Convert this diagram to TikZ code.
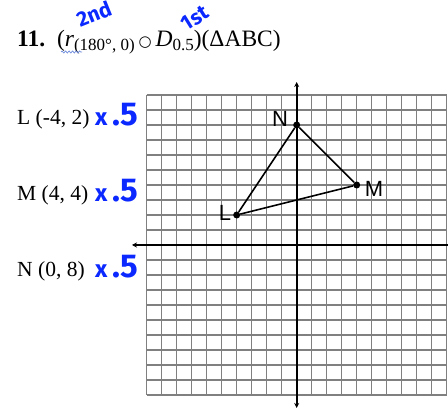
\documentclass[tikz,border=0pt]{standalone}
\usepackage{fontspec}
\setmainfont{Liberation Serif}
\newfontfamily\labsans{Liberation Sans}
\newfontfamily\handfont{Fira Sans}
\newfontfamily\symfont{DejaVu Sans}
\usetikzlibrary{arrows.meta,decorations.pathmorphing}
\definecolor{handblue}{RGB}{10,40,255}
\definecolor{squig}{RGB}{110,140,220}
\begin{document}
\begin{tikzpicture}[x=1pt,y=-1pt,
  gridline/.style={draw=black!50,line width=1.5pt},
  axisline/.style={draw=black,line width=1.8pt},
  tri/.style={draw=black,line width=1.6pt},
  vpt/.style={circle,fill=black,inner sep=0pt,minimum size=7pt},
  vlab/.style={font=\labsans\fontsize{22}{22}\selectfont,inner sep=0pt},
  ptlab/.style={font=\fontsize{21.5}{21.5}\selectfont,anchor=base west,inner sep=0pt},
  hand/.style={font=\handfont\bfseries\fontsize{24}{24}\selectfont,text=handblue,inner sep=0pt},
  tip/.style={-{Stealth[length=5pt,width=5pt]}}]
\useasboundingbox (0,0) rectangle (448,419);
% grid
\foreach \i in {-10,...,10}{
  \draw[gridline] ({296.7+15*\i},95) -- ({296.7+15*\i},395);
  \draw[gridline] (146.7,{245+15*\i}) -- (446.7,{245+15*\i});
}
% axes
\coordinate (ytop) at (296.7,82);
\coordinate (ybot) at (296.7,408);
\coordinate (xleft) at (132,245);
\coordinate (xright) at (452,245);
\draw[axisline,{Stealth[length=5pt,width=5pt]}-{Stealth[length=5pt,width=5pt]}] (ybot) -- (ytop);
\draw[axisline,tip] (xright) -- (xleft);
% triangle
\node[vpt] (L) at ({296.7-60},{245-30}) {};
\node[vpt] (M) at ({296.7+60},{245-60}) {};
\node[vpt] (N) at (296.7,{245-120}) {};
\draw[tri] (L) -- (M) -- (N) -- (L);
\node[vlab] (Llab) at (225,213) {L};
\node[vlab] (Mlab) at (374,189) {M};
\node[vlab] (Nlab) at (280,119) {N};
% title
\node[anchor=base west,inner sep=0pt,font=\fontsize{23.5}{23.5}\selectfont] (title) at (17,47)
 {\textbf{11.}\ \ (\textit{r}\lower3.5pt\hbox{\fontsize{17}{17}\selectfont(180°, 0)}\,{\symfont\fontsize{15}{15}\selectfont ○}\,\textit{D}\lower3.5pt\hbox{\fontsize{17}{17}\selectfont 0.5})(ΔABC)};
\coordinate (sq1) at (61,52);
\coordinate (sq2) at (82,52);
\draw[squig,line width=0.7pt,decorate,decoration={snake,amplitude=1pt,segment length=3.5pt}] (sq1) -- (sq2);
\node[hand,rotate=22,font=\handfont\bfseries\fontsize{21}{21}\selectfont] (second) at (94,14) {2nd};
\node[hand,rotate=32,font=\handfont\bfseries\fontsize{21}{21}\selectfont] (first) at (195,18) {1st};
% point list
\node[ptlab] (pl) at (17,125) {L (-4, 2)};
\node[ptlab] (pm) at (17,201) {M (4, 4)};
\node[ptlab] (pn) at (17,277) {N (0, 8)};
\node[hand,anchor=base west] (hl) at (95,126) {x\hspace{5pt}{\fontsize{33}{33}\selectfont .5}};
\node[hand,anchor=base west] (hm) at (95,202) {x\hspace{5pt}{\fontsize{33}{33}\selectfont .5}};
\node[hand,anchor=base west] (hn) at (95,278) {x\hspace{5pt}{\fontsize{33}{33}\selectfont .5}};
\end{tikzpicture}
\end{document}
